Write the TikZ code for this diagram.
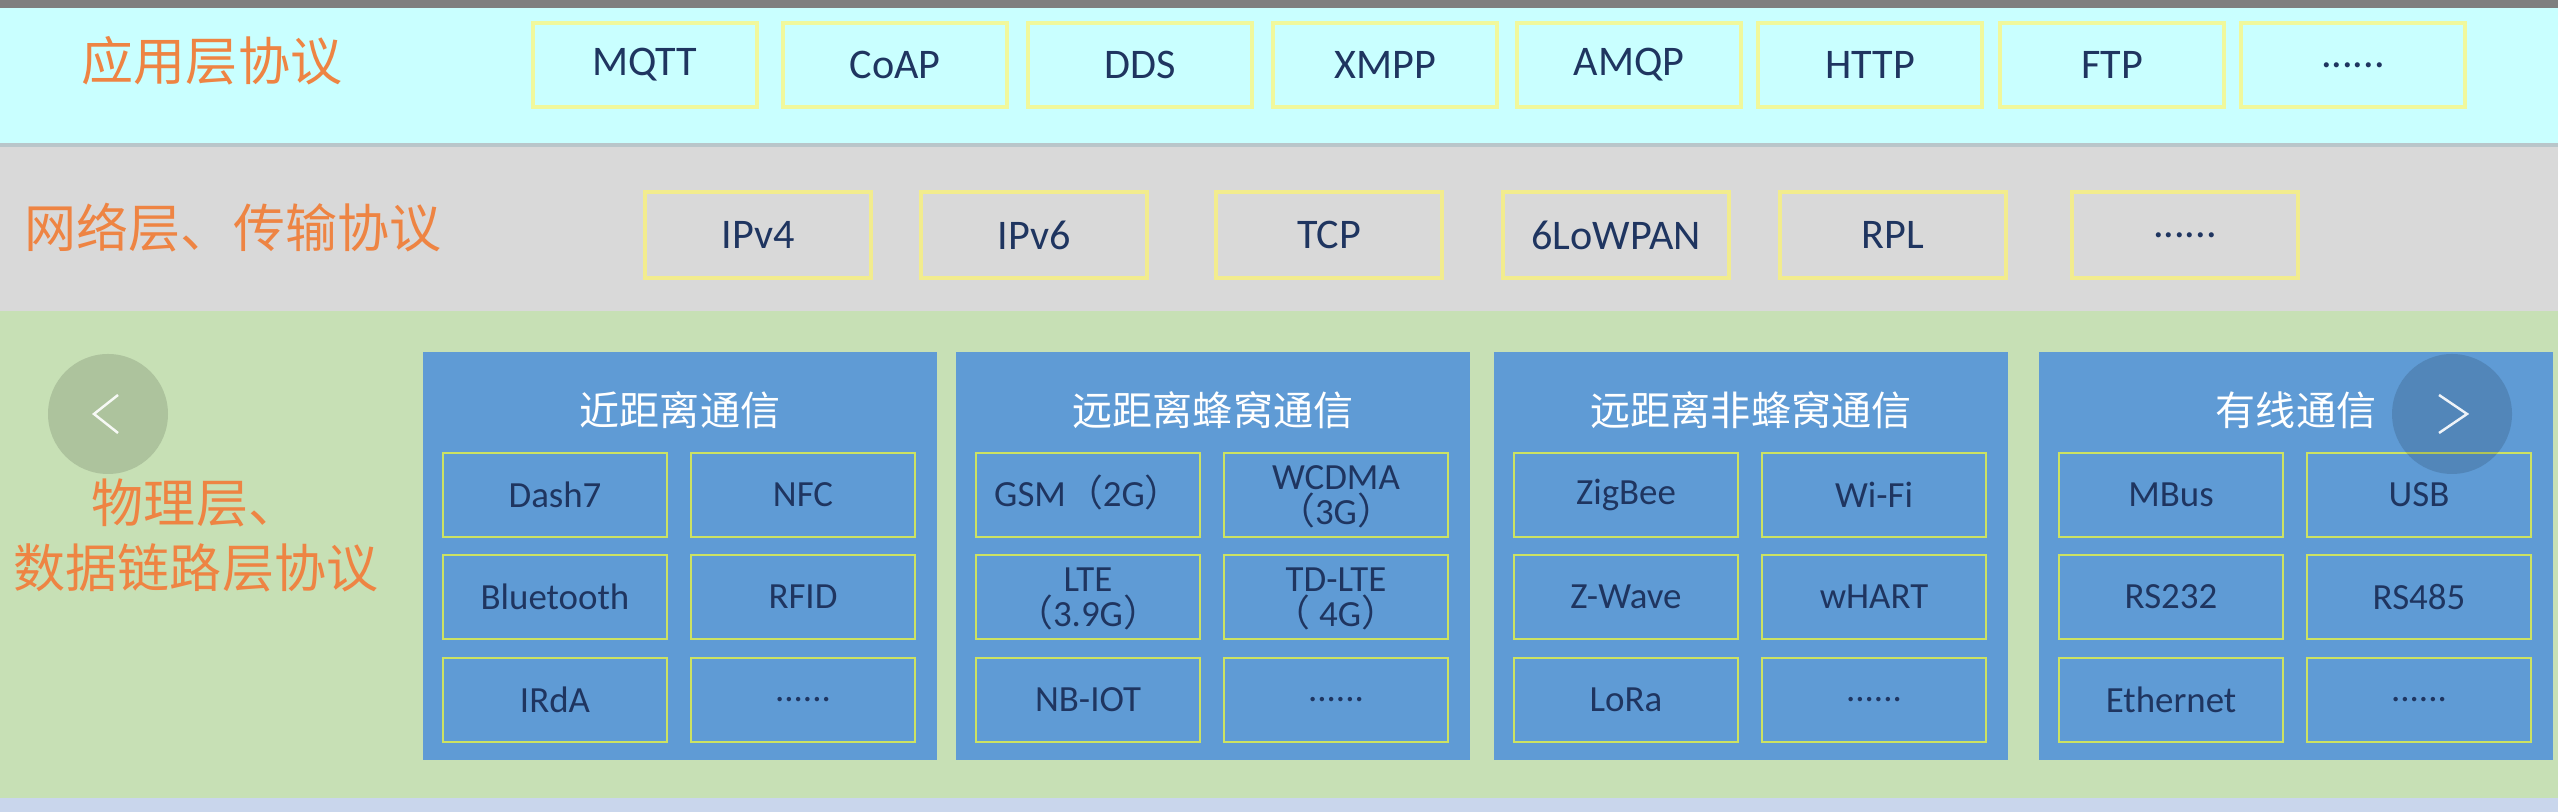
\documentclass[tikz,border=0pt]{standalone}
\usepackage{fontspec}
\setmainfont{Carlito}
\newfontfamily\cjk{Noto Sans CJK SC}
\usetikzlibrary{calc}
\definecolor{topgray}{HTML}{7F7F7F}
\definecolor{appcyan}{HTML}{C9FFFF}
\definecolor{bandshade}{HTML}{B9C6CA}
\definecolor{netgray}{HTML}{D9D9D9}
\definecolor{phygreen}{HTML}{C7E0B5}
\definecolor{footblue}{HTML}{C9D6EC}
\definecolor{layerorange}{HTML}{EE8443}
\definecolor{boxyellow}{HTML}{F0F89C}
\definecolor{netyellow}{HTML}{F2EC8E}
\definecolor{panelblue}{HTML}{5F9BD5}
\definecolor{cellgreen}{HTML}{CCE262}
\definecolor{protonavy}{HTML}{1F3560}
\newcommand{\zlp}{\smash{\cjk （}}
\newcommand{\zrp}{\smash{\cjk ）}}
\tikzset{
    layer/.style = {
        text=layerorange,
        font=\cjk\fontsize{14.8pt}{18.5pt}\selectfont,
        align=center
    },
    appproto/.style = {
        draw=boxyellow,
        shape=rectangle,
        minimum height=0.84cm,
        minimum width=2.24cm,
        line width=1pt,
        text=protonavy,
        font=\fontsize{12pt}{14pt}\selectfont
    },
    netproto/.style = {
        appproto,
        draw=netyellow,
        minimum height=0.86cm,
        minimum width=2.26cm
    },
    panel/.style = {
        fill=panelblue,
        shape=rectangle,
        minimum height=4.08cm,
        minimum width=5.14cm
    },
    paneltitle/.style = {
        text=white,
        font=\cjk\fontsize{11.4pt}{13pt}\selectfont
    },
    cell/.style = {
        draw=cellgreen,
        shape=rectangle,
        minimum height=0.84cm,
        minimum width=2.24cm,
        line width=0.7pt,
        text=protonavy,
        align=center,
        font=\fontsize{10.5pt}{10pt}\selectfont
    },
    slidebtn/.style = {
        shape=circle,
        fill=black,
        fill opacity=0.13,
        minimum size=1.2cm
    },
    chevron/.style = {
        draw=white,
        line width=0.7pt,
        draw opacity=0.9
    }
}
\begin{document}
\begin{tikzpicture}
        \useasboundingbox (0,0) rectangle (25.58,8.12);
        \fill[topgray] (0,8.04) rectangle (25.58,8.12);
        \fill[appcyan] (0,6.69) rectangle (25.58,8.04);
        \fill[bandshade] (0,6.65) rectangle (25.58,6.69);
        \fill[netgray] (0,5.01) rectangle (25.58,6.65);
        \fill[phygreen] (0,0.14) rectangle (25.58,5.01);
        \fill[footblue] (0,0) rectangle (25.58,0.14);

        \node[layer] (applabel) at (2.12,7.51) {应用层协议};
        \node[appproto] (mqtt) at (6.45,7.47) {MQTT};
        \node[appproto] (coap) at (8.95,7.47) {CoAP};
        \node[appproto] (dds) at (11.40,7.47) {DDS};
        \node[appproto] (xmpp) at (13.85,7.47) {XMPP};
        \node[appproto] (amqp) at (16.29,7.47) {AMQP};
        \node[appproto] (http) at (18.70,7.47) {HTTP};
        \node[appproto] (ftp) at (21.12,7.47) {FTP};
        \node[appproto] (appmore) at (23.53,7.47) {......};

        \node[layer] (netlabel) at (2.33,5.84) {网络层、传输协议};
        \node[netproto] (ipv4) at (7.58,5.77) {IPv4};
        \node[netproto] (ipv6) at (10.34,5.77) {IPv6};
        \node[netproto] (tcp) at (13.29,5.77) {TCP};
        \node[netproto] (lowpan) at (16.16,5.77) {6LoWPAN};
        \node[netproto] (rpl) at (18.93,5.77) {RPL};
        \node[netproto] (netmore) at (21.85,5.77) {......};

        \node[layer] (phylabel) at (1.96,2.77) {物理层、\\数据链路层协议};

        \node[panel] (near) at (6.80,2.56) {};
        \node[paneltitle] (neartitle) at (6.80,4.02) {近距离通信};
        \node[cell] (dash7) at (5.55,3.17) {Dash7};
        \node[cell] (nfc) at (8.03,3.17) {NFC};
        \node[cell] (bluetooth) at (5.55,2.15) {Bluetooth};
        \node[cell] (rfid) at (8.03,2.15) {RFID};
        \node[cell] (irda) at (5.55,1.12) {IRdA};
        \node[cell] (nearmore) at (8.03,1.12) {......};

        \node[panel] (cellular) at (12.13,2.56) {};
        \node[paneltitle] (cellulartitle) at (12.13,4.02) {远距离蜂窝通信};
        \node[cell] (gsm) at (10.88,3.17) {GSM\zlp 2G\zrp};
        \node[cell] (wcdma) at (13.36,3.17) {WCDMA\\\zlp 3G\zrp};
        \node[cell] (lte) at (10.88,2.15) {LTE\\\zlp 3.9G\zrp};
        \node[cell] (tdlte) at (13.36,2.15) {TD-LTE\\\zlp\ 4G\zrp};
        \node[cell] (nbiot) at (10.88,1.12) {NB-IOT};
        \node[cell] (cellularmore) at (13.36,1.12) {......};

        \node[panel] (noncellular) at (17.51,2.56) {};
        \node[paneltitle] (noncellulartitle) at (17.51,4.02) {远距离非蜂窝通信};
        \node[cell] (zigbee) at (16.26,3.17) {ZigBee};
        \node[cell] (wifi) at (18.74,3.17) {Wi-Fi};
        \node[cell] (zwave) at (16.26,2.15) {Z-Wave};
        \node[cell] (whart) at (18.74,2.15) {wHART};
        \node[cell] (lora) at (16.26,1.12) {LoRa};
        \node[cell] (noncellularmore) at (18.74,1.12) {......};

        \node[panel] (wired) at (22.96,2.56) {};
        \node[paneltitle] (wiredtitle) at (22.96,4.02) {有线通信};
        \node[cell] (mbus) at (21.71,3.17) {MBus};
        \node[cell] (usb) at (24.19,3.17) {USB};
        \node[cell] (rstwo) at (21.71,2.15) {RS232};
        \node[cell] (rsfour) at (24.19,2.15) {RS485};
        \node[cell] (ethernet) at (21.71,1.12) {Ethernet};
        \node[cell] (wiredmore) at (24.19,1.12) {......};

        \node[slidebtn] (prevbtn) at (1.08,3.98) {};
        \node[slidebtn] (nextbtn) at (24.52,3.98) {};
        \draw[chevron] ($(prevbtn.center)+(0.10,0.19)$) -- ($(prevbtn.center)+(-0.14,0)$) -- ($(prevbtn.center)+(0.10,-0.19)$);
        \draw[chevron] ($(nextbtn.center)+(-0.13,0.19)$) -- ($(nextbtn.center)+(0.15,0)$) -- ($(nextbtn.center)+(-0.13,-0.19)$);
\end{tikzpicture}
\end{document}
